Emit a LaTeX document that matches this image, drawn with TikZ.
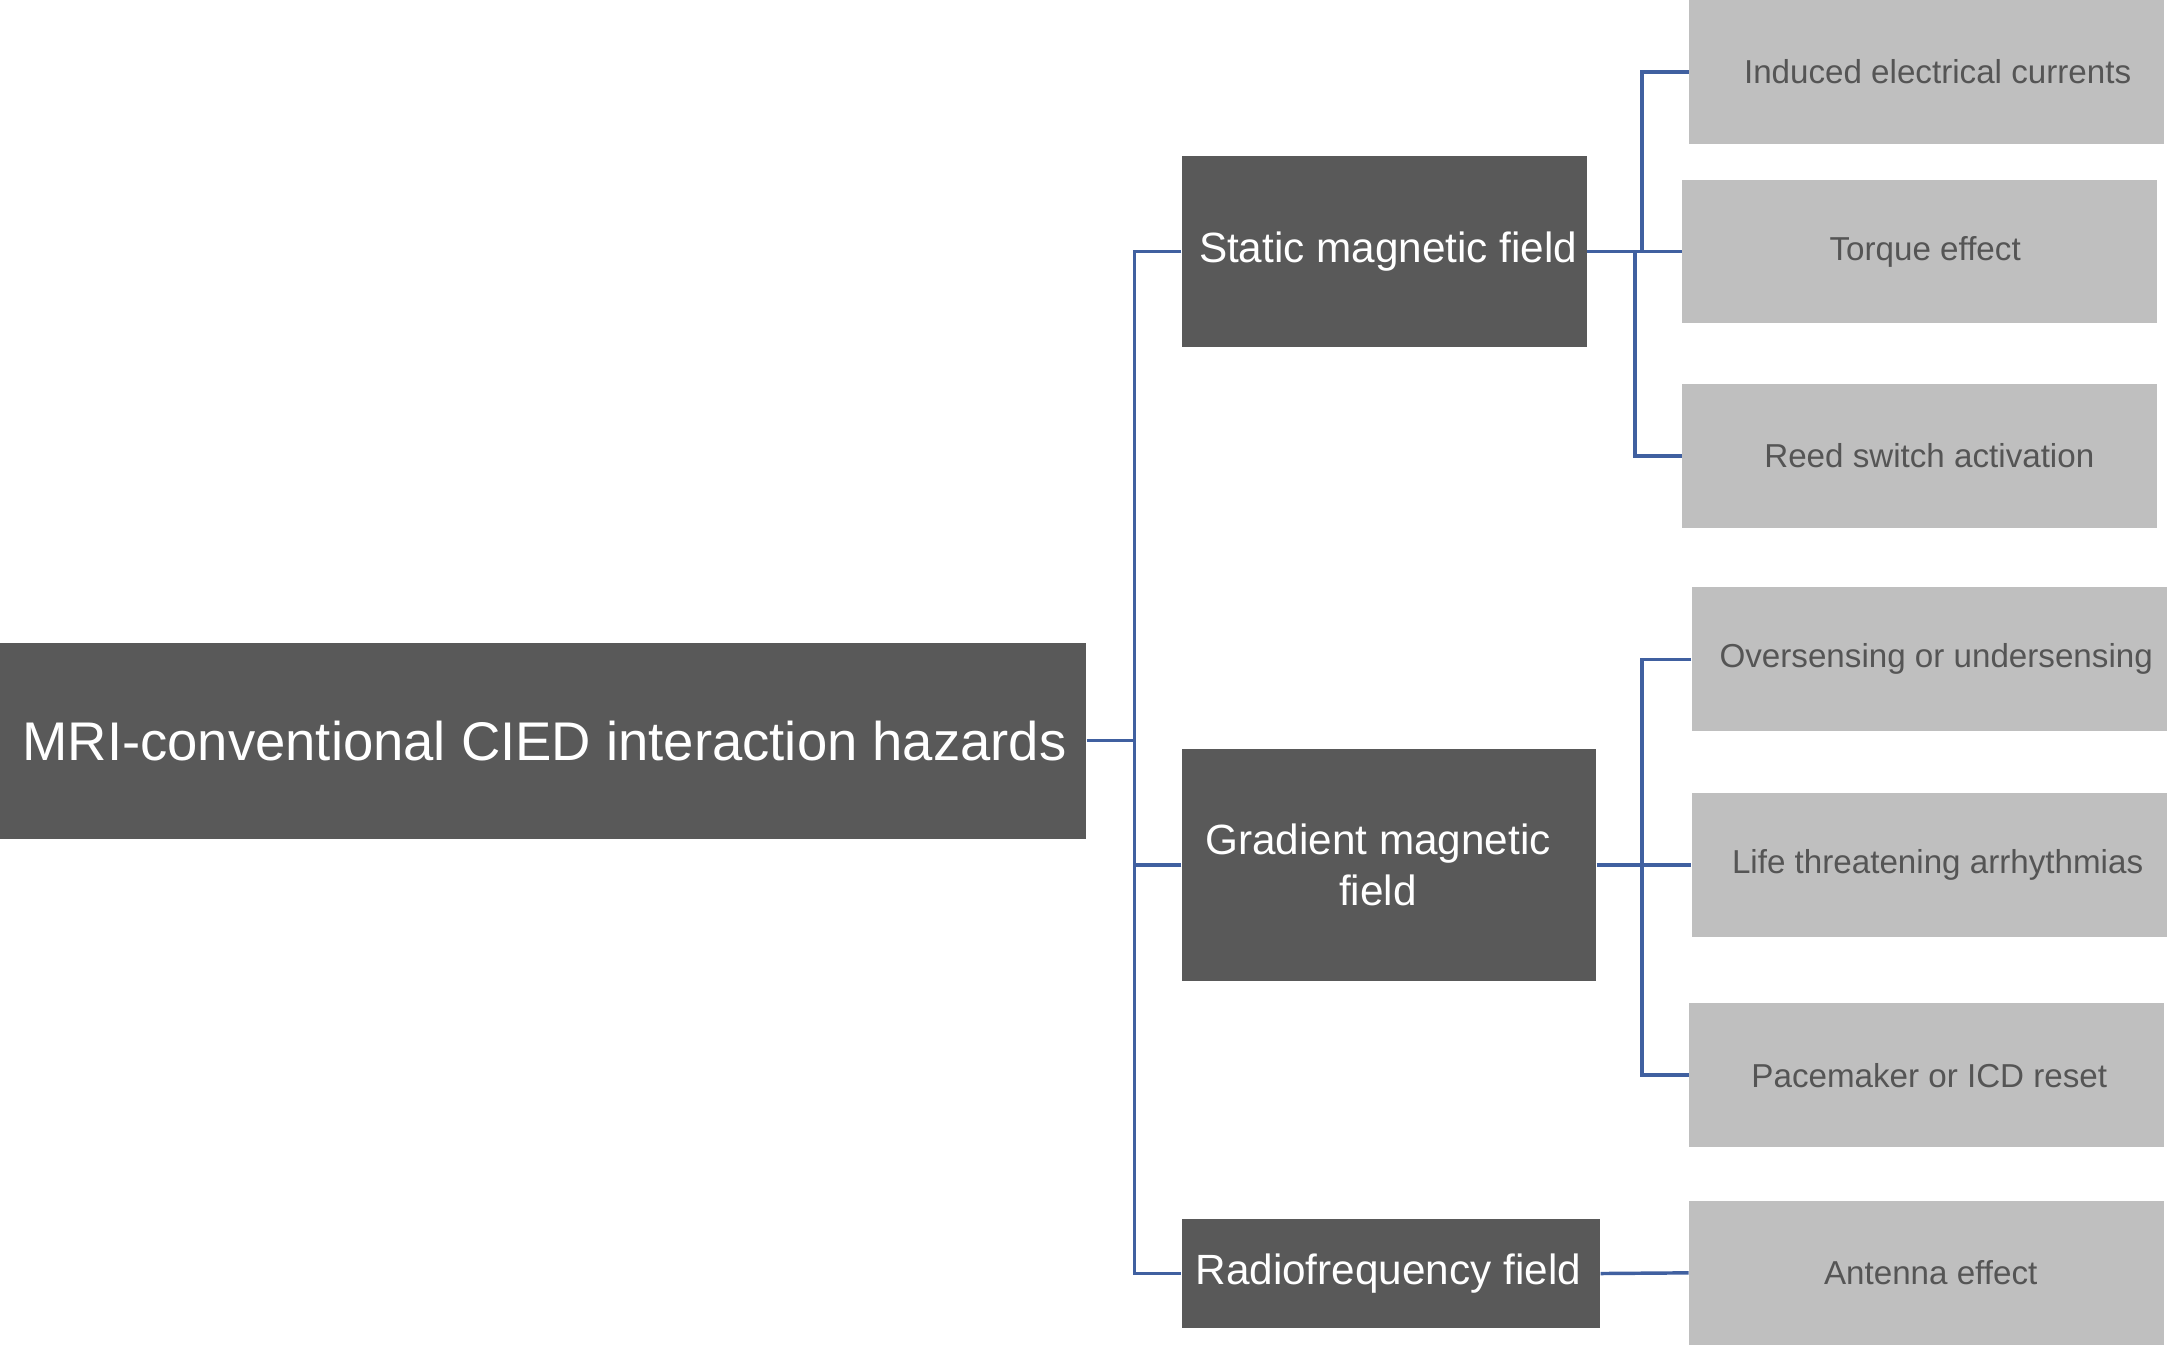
\documentclass[tikz,border=0pt]{standalone}
\usepackage{fontspec}
\setmainfont{Liberation Sans}
\definecolor{darkbox}{HTML}{595959}
\definecolor{lightbox}{HTML}{BFBFBF}
\definecolor{leaftext}{HTML}{555555}
\definecolor{connblue}{RGB}{64,96,160}
\tikzset{
  rootbox/.style={rectangle, fill=darkbox, text=white, inner sep=0pt,
    minimum width=786pt, minimum height=142pt,
    font=\fontsize{39.4}{47}\selectfont},
  midbox/.style={rectangle, fill=darkbox, text=white, inner sep=0pt, align=center,
    font=\fontsize{30.6}{37}\selectfont},
  leafbox/.style={rectangle, fill=lightbox, text=leaftext, inner sep=0pt,
    minimum width=344pt, minimum height=104pt,
    font=\fontsize{24}{29}\selectfont},
  conn/.style={draw=connblue, line width=2.5pt}
}
\begin{document}
\begin{tikzpicture}[x=1pt, y=-1pt]
\useasboundingbox (0,0) rectangle (1568,974);
% root
\node[rootbox] (root) at (393,536) {\hspace*{2pt}MRI-conventional CIED interaction hazards};
% mid level
\node[midbox, minimum width=293pt, minimum height=138pt] (static) at (1001.5,182) {\hspace*{6pt}Static magnetic field};
\node[midbox, minimum width=300pt, minimum height=168pt] (grad) at (1005,626) {\hspace*{-16pt}Gradient magnetic\\\hspace*{-16pt}field};
\node[midbox, minimum width=303pt, minimum height=79pt] (rf) at (1006.5,921.5) {\hspace*{-4pt}Radiofrequency field};
% leaves
\node[leafbox] (ind) at (1394,52) {\hspace*{16pt}Induced electrical currents};
\node[leafbox] (torque) at (1389,182) {\hspace*{8pt}Torque effect};
\node[leafbox] (reed) at (1389,330) {\hspace*{14pt}Reed switch activation};
\node[leafbox] (over) at (1396,477) {\hspace*{10pt}Oversensing or undersensing};
\node[leafbox] (life) at (1396,626) {\hspace*{12pt}Life threatening arrhythmias};
\node[leafbox] (pace) at (1394,778) {\hspace*{4pt}Pacemaker or ICD reset};
\node[leafbox] (ant) at (1394,921) {\hspace*{6pt}Antenna effect};
% junction coordinates
\coordinate (trunk) at (821,536);
\coordinate (ja) at (1188,182);
\coordinate (jb) at (1183,182);
\coordinate (jg) at (1188,626);
% connectors
\draw[conn] (root.east) -- (root.east -| trunk);
\draw[conn] (static.west) -- (static.west -| trunk) |- (rf.west);
\draw[conn] (grad.west) -- (grad.west -| trunk);
\draw[conn] (static.east) -- (torque.west);
\draw[conn] (ind.west) -| (ja);
\draw[conn] (reed.west) -| (jb);
\draw[conn] (grad.east) -- (life.west);
\draw[conn] (over.west) -| (jg);
\draw[conn] (pace.west) -| (jg);
\draw[conn] (rf.east) -- (ant.west);
\end{tikzpicture}
\end{document}
